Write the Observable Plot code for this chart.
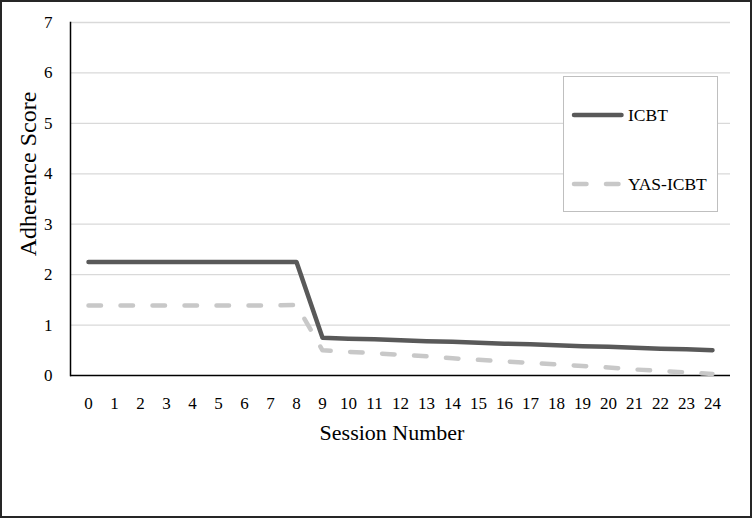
<!DOCTYPE html>
<html><head><meta charset="utf-8">
<script src="https://cdn.jsdelivr.net/npm/d3@7"></script>
<script src="https://cdn.jsdelivr.net/npm/@observablehq/plot@0.6"></script>
<style>
body{margin:0;background:#fff;}
#wrap{position:relative;width:752px;height:518px;font-family:"Liberation Serif",serif;color:#000;overflow:hidden;}
#frame{position:absolute;left:0;top:0;width:752px;height:518px;box-sizing:border-box;border:2px solid #262626;pointer-events:none;}
#ytitle{position:absolute;left:28px;top:174px;transform:translate(-50%,-50%) rotate(-90deg);font-size:24px;white-space:nowrap;line-height:1;}
#xtitle{position:absolute;left:392px;top:433px;transform:translate(-50%,-50%);font-size:22px;white-space:nowrap;line-height:1;}
#legend{position:absolute;left:563px;top:76px;width:155px;height:136px;box-sizing:border-box;border:1px solid #bfbfbf;background:#fff;font-size:17.5px;}
.item{position:absolute;left:7px;display:flex;align-items:center;}
.item span{margin-left:1px;}
</style></head>
<body>
<div id="wrap">
  <div id="chart"></div>
  <div id="ytitle">Adherence Score</div>
  <div id="xtitle">Session Number</div>
  <div id="legend"></div>
  <div id="frame"></div>
</div>
<script>
const sessions = [0,1,2,3,4,5,6,7,8,9,10,11,12,13,14,15,16,17,18,19,20,21,22,23,24];
const yTicks = [0,1,2,3,4,5,6,7];
const seriesNames = ["ICBT", "YAS-ICBT"];
const icbt = [2.25,2.25,2.25,2.25,2.25,2.25,2.25,2.25,2.25,0.75,0.73,0.72,0.70,0.68,0.67,0.65,0.63,0.62,0.60,0.58,0.57,0.55,0.53,0.52,0.50];
const yas  = [1.39,1.39,1.39,1.39,1.39,1.39,1.39,1.39,1.40,0.50,0.47,0.44,0.41,0.38,0.34,0.31,0.28,0.25,0.22,0.19,0.16,0.12,0.09,0.06,0.03];
const colors = ["#595959", "#c8c8c8"];

const dataIcbt = sessions.map((s,i)=>({session:s, value:icbt[i]}));
const dataYas = sessions.map((s,i)=>({session:s, value:yas[i]}));

const chart = Plot.plot({
  width: 752, height: 518,
  marginLeft: 70, marginRight: 22, marginTop: 22, marginBottom: 143,
  style: {fontFamily: "Liberation Serif, serif", fontSize: "17px", background: "transparent", color: "#000"},
  x: {type: "point", domain: sessions, padding: 0.5, label: null},
  y: {domain: [0, 7], label: null},
  marks: [
    Plot.gridY(yTicks.slice(1), {stroke: "#d9d9d9", strokeOpacity: 1, strokeWidth: 1.3}),
    Plot.axisY(yTicks, {tickSize: 0, tickPadding: 18, label: null, fontSize: 17, tickFormat: d => String(d)}),
    Plot.axisX(sessions, {tickSize: 0, tickPadding: 21, label: null, fontSize: 17, tickFormat: d => String(d)}),
    Plot.frame({anchor: "left", stroke: "#000", strokeWidth: 1.5}),
    Plot.ruleY([0], {stroke: "#000", strokeWidth: 1.5}),
    Plot.line(dataYas, {x: "session", y: "value", stroke: colors[1], strokeWidth: 4.5, strokeDasharray: "12.5,19.5", strokeLinecap: "round", strokeLinejoin: "round"}),
    Plot.line(dataIcbt, {x: "session", y: "value", stroke: colors[0], strokeWidth: 4.5, strokeLinecap: "round", strokeLinejoin: "round"})
  ]
});
document.getElementById("chart").appendChild(chart);

const legend = document.getElementById("legend");
const tops = [38, 107];
seriesNames.forEach((name, i) => {
  const div = document.createElement("div");
  div.className = "item";
  div.style.top = (tops[i] - 11) + "px";
  const dash = i === 1 ? ' stroke-dasharray="12.5,19.5"' : '';
  div.innerHTML = `<svg width="56" height="22"><line x1="3" x2="50.5" y1="11" y2="11" stroke="${colors[i]}" stroke-width="4.5" stroke-linecap="round"${dash}/></svg><span>${name}</span>`;
  legend.appendChild(div);
});
</script>
</body></html>
